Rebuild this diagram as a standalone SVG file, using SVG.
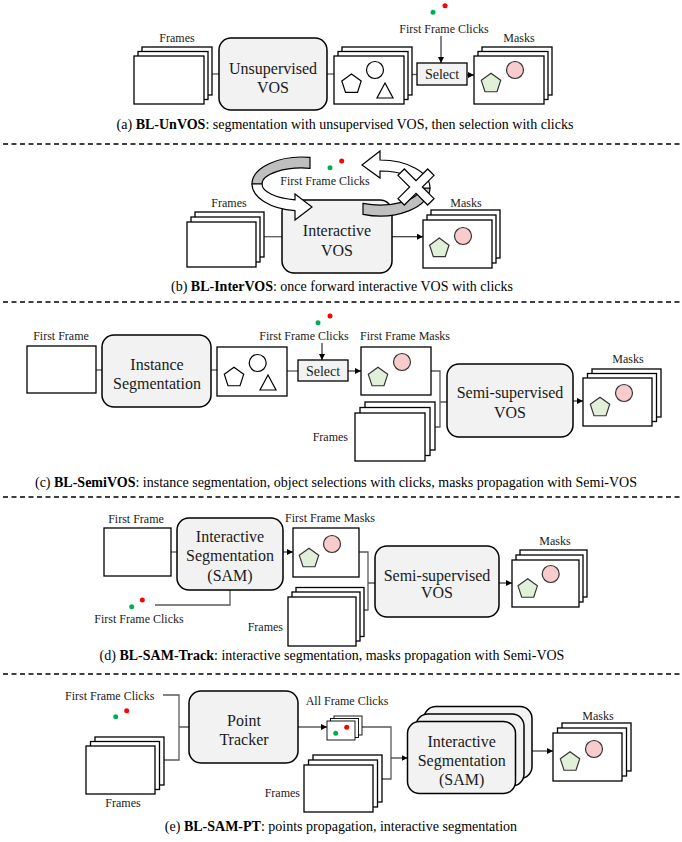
<svg xmlns="http://www.w3.org/2000/svg" xmlns:xlink="http://www.w3.org/1999/xlink" width="682" height="842" viewBox="0 0 682 842">
<style>
text{font-family:"Liberation Serif","Times New Roman",serif;fill:#1a1a1a}
.lbl{font-size:12px;text-anchor:middle}
.lblr{font-size:12px;text-anchor:end}
.big{font-size:16px;text-anchor:middle}
.sel{font-size:14px;text-anchor:middle}
.cap{font-size:14px;text-anchor:middle;fill:#000}
.cap tspan.b{font-weight:bold}
.fr{fill:#fff;stroke:#000;stroke-width:1.3}
.frs{fill:#fff;stroke:#000;stroke-width:0.9}
.box{fill:#f2f2f2;stroke:#000;stroke-width:1.5}
.con{fill:none;stroke:#595959;stroke-width:1.3}
.arr{fill:none;stroke:#333;stroke-width:1.2;marker-end:url(#ah)}
.dash{stroke:#000;stroke-width:1.3;stroke-dasharray:5 3.5}
.pw{fill:#fff;stroke:#000;stroke-width:1.2}
.pg{fill:#e2efd9;stroke:#333;stroke-width:1.2}
.cw{fill:#fff;stroke:#000;stroke-width:1.2}
.cr{fill:#f8cbcc;stroke:#333;stroke-width:1.2}
.g{fill:#00b050}
.r{fill:#ff0000}
.gray{fill:#bfbfbf;stroke:#000;stroke-width:1.2}
.wht{fill:#fff;stroke:#000;stroke-width:1.2}
</style>
<defs>
<marker id="ah" markerWidth="6" markerHeight="6" refX="6" refY="3" orient="auto" markerUnits="userSpaceOnUse"><path d="M0,0 L6,3 L0,6 z" fill="#000"/></marker>
<polygon id="pent" points="0,-10.2 9.7,-3.15 6,8.25 -6,8.25 -9.7,-3.15"/>
</defs>

<g id="separators">
<line class="dash" x1="3" y1="144" x2="680" y2="144"/>
<line class="dash" x1="3" y1="302" x2="680" y2="302"/>
<line class="dash" x1="3" y1="497" x2="680" y2="497"/>
<line class="dash" x1="3" y1="674" x2="680" y2="674"/>
</g>

<g id="connectors">
<line class="con" x1="204" y1="74" x2="219" y2="74"/>
<line class="con" x1="327" y1="74" x2="334" y2="74"/>
<line class="con" x1="404" y1="74.5" x2="417" y2="74.5"/>
<line class="arr" x1="441" y1="36" x2="441" y2="63"/>
<line class="arr" x1="467" y1="75" x2="474" y2="75"/>
<line class="con" x1="256" y1="236.7" x2="282" y2="236.7"/>
<line class="arr" x1="392" y1="236.7" x2="423" y2="236.7"/>
<line class="con" x1="96" y1="370" x2="102" y2="370"/>
<line class="con" x1="211" y1="370" x2="217" y2="370"/>
<line class="con" x1="287" y1="371" x2="298" y2="371"/>
<line class="arr" x1="322" y1="343" x2="322" y2="360"/>
<line class="arr" x1="348" y1="371" x2="361" y2="371"/>
<path class="con" d="M431,371 H440 V427 H425 M440,402 H447"/>
<line class="arr" x1="573" y1="401" x2="583" y2="401"/>
<line class="con" x1="171" y1="552" x2="177" y2="552"/>
<line class="arr" x1="283" y1="552" x2="293" y2="552"/>
<path class="con" d="M230,590 V605 H155"/>
<path class="con" d="M359,552 H368 V610 H356 M368,583 H375"/>
<line class="arr" x1="499" y1="583" x2="512" y2="583"/>
<path class="con" d="M163,695 H179 V760 H155 M179,727 H189"/>
<line class="arr" x1="298" y1="727" x2="327" y2="727"/>
<path class="con" d="M355,727 H391 V779 H373"/>
<line class="arr" x1="391" y1="758" x2="407.5" y2="758"/>
<line class="arr" x1="532" y1="751" x2="553" y2="751"/>
</g>

<g id="a-frames">
<rect class="fr" x="142" y="47" width="70" height="48"/>
<rect class="fr" x="138" y="51.5" width="70" height="48"/>
<rect class="fr" x="134" y="56" width="70" height="48"/>
<text class="lbl" x="177" y="42">Frames</text>
</g>
<g id="a-unvos">
<rect class="box" x="219" y="38" width="108" height="72" rx="12"/>
<text class="big" x="273" y="73.5">Unsupervised</text>
<text class="big" x="273" y="92.5">VOS</text>
</g>
<g id="a-objects">
<rect class="fr" x="342" y="47" width="70" height="48"/>
<rect class="fr" x="338" y="51.5" width="70" height="48"/>
<rect class="fr" x="334" y="56" width="70" height="48"/>
<use xlink:href="#pent" x="351.5" y="84.2" class="pw"/>
<circle class="cw" cx="375" cy="70" r="8.5"/>
<polygon class="pw" points="377,98 393,98 385,83"/>
</g>
<g id="a-clicks">
<circle class="g" cx="433" cy="12.3" r="2.5"/>
<circle class="r" cx="445" cy="5.7" r="2.5"/>
<text class="lbl" x="444" y="33">First Frame Clicks</text>
</g>
<g id="a-select">
<rect class="box" x="417" y="63" width="50" height="22" style="stroke-width:1.3"/>
<text class="sel" x="442" y="79">Select</text>
</g>
<g id="a-masks">
<rect class="fr" x="482" y="47" width="70" height="48"/>
<rect class="fr" x="478" y="51.5" width="70" height="48"/>
<rect class="fr" x="474" y="56" width="70" height="48"/>
<use xlink:href="#pent" x="491" y="83.5" class="pg"/>
<circle class="cr" cx="515" cy="70" r="8.5"/>
<text class="lbl" x="519" y="42">Masks</text>
</g>
<text class="cap" x="345" y="129">(a) <tspan class="b">BL-UnVOS</tspan>: segmentation with unsupervised VOS, then selection with clicks</text>

<g id="b-frames">
<rect class="fr" x="195" y="212" width="69" height="45"/>
<rect class="fr" x="191" y="217" width="69" height="45"/>
<rect class="fr" x="187" y="222" width="69" height="45"/>
<text class="lbl" x="229" y="207">Frames</text>
</g>
<g id="b-intervos">
<rect class="box" x="282" y="200" width="110" height="73" rx="12"/>
<text class="big" x="337" y="235.5">Interactive</text>
<text class="big" x="337" y="255.5">VOS</text>
</g>
<g id="b-loop-forward">
<path class="gray" d="M310,157.4 A50,27 0 0 0 252,184 L262,184 A40,16 0 0 1 310,168.3 Z"/>
<path class="wht" d="M252,184 A50,27 0 0 0 295,210.7 L295,220 L312,207 L295,194 L295,199.8 A40,16 0 0 1 262,184 Z"/>
</g>
<g id="b-loop-back">
<path class="gray" d="M363,214.3 A50,28 0 0 0 430,188 L420,188 A40,17 0 0 1 363,203.4 Z"/>
<path class="wht" d="M430,188 A50,28 0 0 0 380,160 L380,151 L362,165 L380,178 L380,171 A40,17 0 0 1 420,188 Z"/>
<polygon class="wht" transform="translate(416,187) rotate(45)" points="-4.5,-21 4.5,-21 4.5,-4.5 21,-4.5 21,4.5 4.5,4.5 4.5,21 -4.5,21 -4.5,4.5 -21,4.5 -21,-4.5 -4.5,-4.5"/>
</g>
<g id="b-clicks">
<circle class="g" cx="330" cy="167.7" r="2.5"/>
<circle class="r" cx="341.7" cy="161" r="2.5"/>
<text class="lbl" x="325" y="185">First Frame Clicks</text>
</g>
<g id="b-masks">
<rect class="fr" x="431" y="210" width="69" height="48"/>
<rect class="fr" x="427" y="215" width="69" height="48"/>
<rect class="fr" x="423" y="220" width="69" height="48"/>
<use xlink:href="#pent" x="439.3" y="248.3" class="pg"/>
<circle class="cr" cx="463" cy="236" r="8.5"/>
<text class="lbl" x="466" y="207">Masks</text>
</g>
<text class="cap" x="342" y="291">(b) <tspan class="b">BL-InterVOS</tspan>: once forward interactive VOS with clicks</text>

<g id="c-firstframe">
<rect class="fr" x="27" y="346" width="69" height="47"/>
<text class="lbl" x="61" y="340">First Frame</text>
</g>
<g id="c-instseg">
<rect class="box" x="102" y="335" width="109" height="72" rx="12"/>
<text class="big" x="157" y="369.5">Instance</text>
<text class="big" x="157" y="388.5">Segmentation</text>
</g>
<g id="c-objects">
<rect class="fr" x="217" y="347" width="70" height="49"/>
<use xlink:href="#pent" x="234" y="377.5" class="pw"/>
<circle class="cw" cx="257.7" cy="363" r="8.5"/>
<polygon class="pw" points="260,390 276,390 268,375"/>
</g>
<g id="c-clicks">
<circle class="g" cx="318" cy="322.7" r="2.5"/>
<circle class="r" cx="330" cy="316" r="2.5"/>
<text class="lbl" x="304" y="340">First Frame Clicks</text>
</g>
<g id="c-select">
<rect class="box" x="298" y="360" width="50" height="21" style="stroke-width:1.3"/>
<text class="sel" x="323" y="375.5">Select</text>
</g>
<g id="c-ffmasks">
<rect class="fr" x="361" y="347" width="70" height="48"/>
<use xlink:href="#pent" x="378" y="377.5" class="pg"/>
<circle class="cr" cx="402" cy="362" r="8.5"/>
<text class="lbl" x="405" y="340">First Frame Masks</text>
</g>
<g id="c-frames">
<rect class="fr" x="365" y="402" width="70" height="48"/>
<rect class="fr" x="360" y="407.5" width="70" height="48"/>
<rect class="fr" x="355" y="413" width="70" height="48"/>
<text class="lblr" x="348" y="441">Frames</text>
</g>
<g id="c-semivos">
<rect class="box" x="447" y="364" width="126" height="73" rx="12"/>
<text class="big" x="510" y="397.5">Semi-supervised</text>
<text class="big" x="510" y="417.5">VOS</text>
</g>
<g id="c-masks">
<rect class="fr" x="592" y="369" width="69" height="48"/>
<rect class="fr" x="587.5" y="373.5" width="69" height="48"/>
<rect class="fr" x="583" y="378" width="69" height="48"/>
<use xlink:href="#pent" x="600" y="407.5" class="pg"/>
<circle class="cr" cx="624" cy="393" r="8.5"/>
<text class="lbl" x="628" y="363">Masks</text>
</g>
<text class="cap" x="336" y="487">(c) <tspan class="b">BL-SemiVOS</tspan>: instance segmentation, object selections with clicks, masks propagation with Semi-VOS</text>

<g id="d-firstframe">
<rect class="fr" x="104" y="528" width="67" height="48"/>
<text class="lbl" x="136" y="523">First Frame</text>
</g>
<g id="d-sam">
<rect class="box" x="177" y="518" width="106" height="72" rx="12"/>
<text class="big" x="230" y="542.2">Interactive</text>
<text class="big" x="230" y="561.2">Segmentation</text>
<text class="big" x="230" y="580.5">(SAM)</text>
</g>
<g id="d-clicks">
<circle class="g" cx="131.7" cy="606.7" r="2.5"/>
<circle class="r" cx="142.3" cy="600" r="2.5"/>
<text class="lbl" x="139" y="623">First Frame Clicks</text>
</g>
<g id="d-ffmasks">
<rect class="fr" x="293" y="528" width="66" height="49"/>
<use xlink:href="#pent" x="309" y="558.5" class="pg"/>
<circle class="cr" cx="332" cy="544" r="8.5"/>
<text class="lbl" x="330" y="522">First Frame Masks</text>
</g>
<g id="d-frames">
<rect class="fr" x="296" y="587.5" width="68" height="49"/>
<rect class="fr" x="292" y="592" width="68" height="49"/>
<rect class="fr" x="288" y="597" width="68" height="49"/>
<text class="lblr" x="283" y="631">Frames</text>
</g>
<g id="d-semivos">
<rect class="box" x="375" y="546" width="124" height="71" rx="12"/>
<text class="big" x="437" y="580.5">Semi-supervised</text>
<text class="big" x="437" y="598">VOS</text>
</g>
<g id="d-masks">
<rect class="fr" x="520" y="550" width="67" height="47"/>
<rect class="fr" x="516" y="555" width="67" height="47"/>
<rect class="fr" x="512" y="560" width="67" height="47"/>
<use xlink:href="#pent" x="527.7" y="589" class="pg"/>
<circle class="cr" cx="550.7" cy="574" r="8.5"/>
<text class="lbl" x="555" y="545">Masks</text>
</g>
<text class="cap" x="332" y="660">(d) <tspan class="b">BL-SAM-Track</tspan>: interactive segmentation, masks propagation with Semi-VOS</text>

<g id="e-clicks">
<text class="lbl" x="109.7" y="700">First Frame Clicks</text>
<circle class="g" cx="115.7" cy="716.7" r="2.5"/>
<circle class="r" cx="126.7" cy="710.7" r="2.5"/>
</g>
<g id="e-frames">
<rect class="fr" x="95" y="737" width="69" height="48"/>
<rect class="fr" x="90.5" y="741.5" width="69" height="48"/>
<rect class="fr" x="86" y="746" width="69" height="48"/>
<text class="lbl" x="123" y="807">Frames</text>
</g>
<g id="e-tracker">
<rect class="box" x="189" y="691" width="109" height="72" rx="12"/>
<text class="big" x="244" y="725.5">Point</text>
<text class="big" x="244" y="744.5">Tracker</text>
</g>
<g id="e-allclicks">
<rect class="frs" x="334" y="716" width="28" height="19"/>
<rect class="frs" x="330.5" y="718.5" width="28" height="19"/>
<rect class="frs" x="327" y="721" width="28" height="19"/>
<circle class="g" cx="335.7" cy="733.3" r="2.5"/>
<circle class="r" cx="346.7" cy="727.3" r="2.5"/>
<text class="lbl" x="347" y="705">All Frame Clicks</text>
</g>
<g id="e-frames2">
<rect class="fr" x="313" y="755" width="69" height="47"/>
<rect class="fr" x="308.5" y="760" width="69" height="47"/>
<rect class="fr" x="304" y="765" width="69" height="47"/>
<text class="lblr" x="300" y="797">Frames</text>
</g>
<g id="e-sam">
<rect class="box" x="424" y="706.5" width="108" height="72" rx="12"/>
<rect class="box" x="416" y="714" width="108" height="72" rx="12"/>
<rect class="box" x="407.5" y="721.5" width="108" height="72" rx="12"/>
<text class="big" x="461.7" y="746.5">Interactive</text>
<text class="big" x="461.7" y="765.5">Segmentation</text>
<text class="big" x="461.7" y="784.8">(SAM)</text>
</g>
<g id="e-masks">
<rect class="fr" x="562" y="723" width="69" height="48"/>
<rect class="fr" x="557.5" y="728" width="69" height="48"/>
<rect class="fr" x="553" y="733" width="69" height="48"/>
<use xlink:href="#pent" x="570" y="762" class="pg"/>
<circle class="cr" cx="594" cy="749" r="8.5"/>
<text class="lbl" x="598" y="720">Masks</text>
</g>
<text class="cap" x="341" y="831">(e) <tspan class="b">BL-SAM-PT</tspan>: points propagation, interactive segmentation</text>
</svg>
